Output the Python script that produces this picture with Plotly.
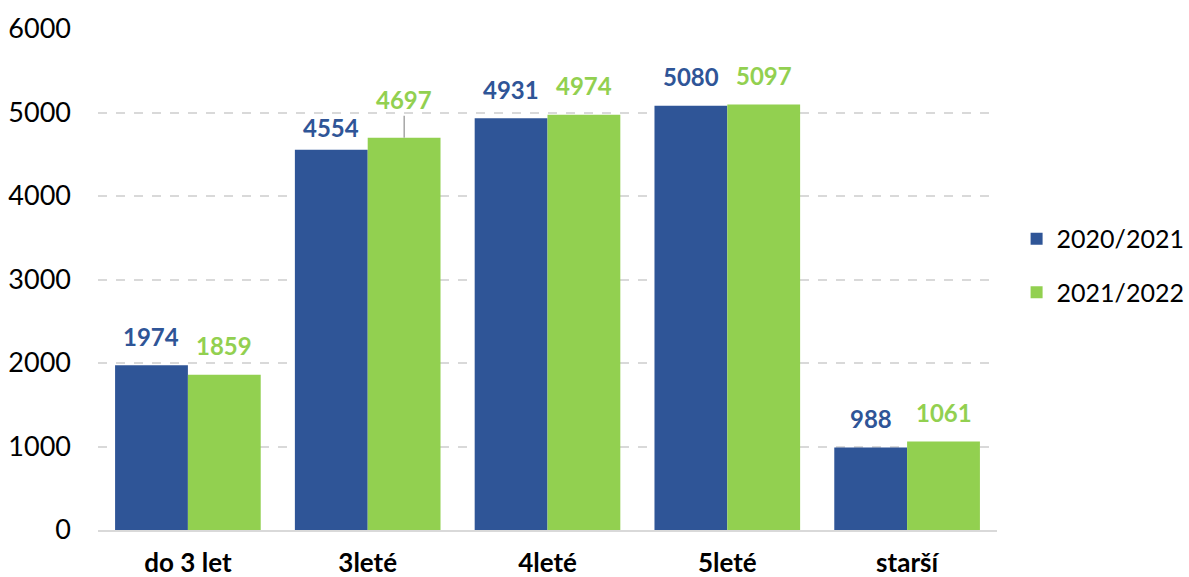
import plotly.graph_objects as go

categories = ["do 3 let", "3leté", "4leté", "5leté", "starší"]
series_names = ["2020/2021", "2021/2022"]
values_2020 = [1974, 4554, 4931, 5080, 988]
values_2021 = [1859, 4697, 4974, 5097, 1061]
y_ticks = [0, 1000, 2000, 3000, 4000, 5000, 6000]

colors = ["#2F5597", "#92D050"]
FONT = "Lato"

fig = go.Figure()
for i, (name, vals) in enumerate(zip(series_names, [values_2020, values_2021])):
    fig.add_trace(go.Bar(
        x=categories, y=vals, name=name, marker_color=colors[i],
        marker_line_width=0, legendgroup=name,
    ))

# data labels
label_shift = {("3leté", 0): 22}
for i, vals in enumerate([values_2020, values_2021]):
    xs = -36.5 if i == 0 else 36.5
    for c, v in zip(categories, vals):
        if (c, i) == ("3leté", 1):
            fig.add_annotation(x=c, y=v, xref="x", yref="y", text=f"<b>{v}</b>",
                               xshift=xs, showarrow=True, arrowhead=0, ax=0, ay=-38,
                               arrowcolor="#A6A6A6", arrowwidth=1.5, standoff=0,
                               font=dict(family=FONT, size=24, color=colors[i]))
        else:
            fig.add_annotation(x=c, y=v, xref="x", yref="y", text=f"<b>{v}</b>",
                               xshift=xs, yshift=label_shift.get((c, i), 29),
                               yanchor="middle", showarrow=False,
                               font=dict(family=FONT, size=24, color=colors[i]))

fig.update_layout(
    width=1189, height=577,
    margin=dict(l=98, r=192, t=29, b=47, autoexpand=False),
    plot_bgcolor="white", paper_bgcolor="white",
    barmode="group", bargap=0.19, bargroupgap=0,
    font=dict(family=FONT, size=24, color="#000000"),
    legend=dict(xref="container", yref="container", x=0.855, y=0.54,
                xanchor="left", yanchor="middle",
                font=dict(family=FONT, size=25, color="#000000"),
                tracegroupgap=18, traceorder="grouped", itemwidth=30),
    showlegend=True,
)
fig.update_yaxes(range=[0, 6000], tickvals=y_ticks, showgrid=True,
                 gridcolor="#D9D9D9", griddash="dash", gridwidth=1.5,
                 zeroline=False, showline=False, ticks="", ticklabelstandoff=26,
                 automargin=False,
                 tickfont=dict(family=FONT, size=27, color="#000000"))
fig.update_xaxes(showline=True, linecolor="#D9D9D9", linewidth=1.5, ticks="",
                 ticklabelstandoff=9, automargin=False,
                 tickfont=dict(family=FONT, size=26, color="#000000", weight="bold"))

fig.write_html("out.html", config={"displayModeBar": False},
               post_script="document.body.style.margin='0';document.body.style.overflow='hidden';")
